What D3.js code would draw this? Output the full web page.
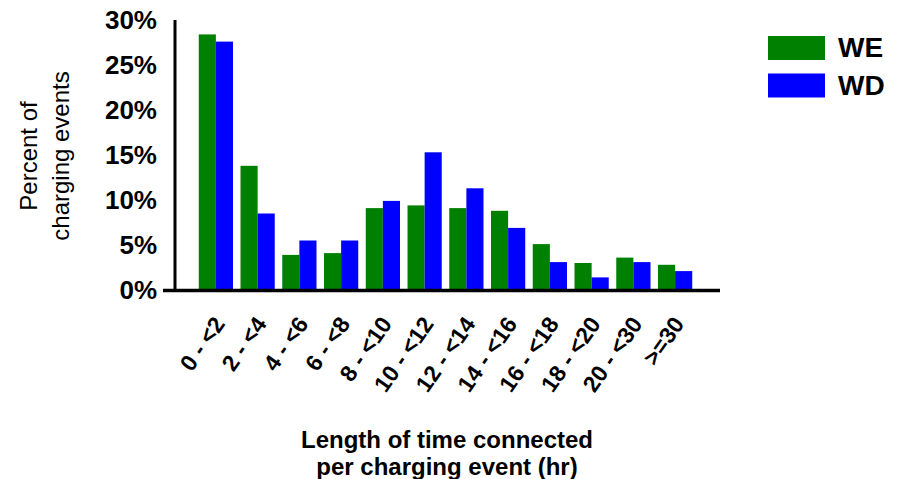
<!DOCTYPE html>
<html lang="en">
<head>
<meta charset="UTF-8">
<title>Charging events</title>
<script src="https://cdn.jsdelivr.net/npm/d3@7"></script>
<style>
  body { margin: 0; background: #fff; }
  text { font-family: "Liberation Sans", Arial, sans-serif; }
</style>
</head>
<body>
<script>
var categories = ["0 - <2", "2 - <4", "4 - <6", "6 - <8", "8 - <10", "10 - <12",
                  "12 - <14", "14 - <16", "16 - <18", "18 - <20", "20 - <30", ">=30"];
var weValues = [28.4, 13.8, 3.9, 4.1, 9.1, 9.4, 9.1, 8.8, 5.1, 3.0, 3.6, 2.8];
var wdValues = [27.6, 8.5, 5.5, 5.5, 9.9, 15.3, 11.3, 6.9, 3.1, 1.4, 3.1, 2.1];
var seriesNames = ["WE", "WD"];
var yTicks = [0, 5, 10, 15, 20, 25, 30];

var width = 907, height = 479;
var colors = { WE: "#008000", WD: "#0000ff" };

var svg = d3.select("body").append("svg")
    .attr("width", width).attr("height", height);

var x = d3.scaleBand()
    .domain(categories)
    .range([195, 696])
    .paddingInner(0.18)
    .paddingOuter(0.09);

var xSub = d3.scaleBand()
    .domain(seriesNames)
    .range([0, x.bandwidth()]);

var y = d3.scaleLinear()
    .domain([0, 30])
    .range([290, 20]);

// bars
var rows = categories.map(function(c, i) {
    return { cat: c, WE: weValues[i], WD: wdValues[i] };
});

var groups = svg.selectAll("g.grp")
    .data(rows)
    .enter().append("g")
    .attr("class", "grp")
    .attr("transform", function(d) { return "translate(" + x(d.cat) + ",0)"; });

groups.selectAll("rect")
    .data(function(d) { return seriesNames.map(function(s) { return { s: s, v: d[s] }; }); })
    .enter().append("rect")
    .attr("x", function(d) { return xSub(d.s); })
    .attr("width", xSub.bandwidth())
    .attr("y", function(d) { return y(d.v); })
    .attr("height", function(d) { return y(0) - y(d.v); })
    .attr("fill", function(d) { return colors[d.s]; });

// axis lines
svg.append("line")
    .attr("x1", 175).attr("x2", 175)
    .attr("y1", y(30)).attr("y2", y(0))
    .attr("stroke", "#000").attr("stroke-width", 3);
svg.append("line")
    .attr("x1", 163).attr("x2", 720)
    .attr("y1", y(0) + 0.5).attr("y2", y(0) + 0.5)
    .attr("stroke", "#000").attr("stroke-width", 3.5);

// y tick labels
svg.selectAll("text.ytick")
    .data(yTicks)
    .enter().append("text")
    .attr("class", "ytick")
    .attr("x", 157)
    .attr("y", function(d) { return y(d) + 9; })
    .attr("text-anchor", "end")
    .attr("font-size", 26)
    .attr("font-weight", "bold")
    .text(function(d) { return d + "%"; });

// x tick labels
svg.selectAll("text.xtick")
    .data(categories)
    .enter().append("text")
    .attr("class", "xtick")
    .attr("text-anchor", "end")
    .attr("font-size", 23)
    .attr("font-weight", "bold")
    .attr("transform", function(d) {
        return "translate(" + (x(d) + x.bandwidth() / 2 + 10) + ",324) rotate(-55)";
    })
    .text(function(d) { return d; });

// y title
var yt = svg.append("text")
    .attr("transform", "translate(0,156) rotate(-90)")
    .attr("text-anchor", "middle")
    .attr("font-size", 24);
yt.append("tspan").attr("x", 0).attr("y", 37).text("Percent of");
yt.append("tspan").attr("x", 0).attr("y", 69).text("charging events");

// x title
var xt = svg.append("text")
    .attr("text-anchor", "middle")
    .attr("font-size", 24)
    .attr("font-weight", "bold");
xt.append("tspan").attr("x", 447).attr("y", 448).text("Length of time connected");
xt.append("tspan").attr("x", 447).attr("y", 475).text("per charging event (hr)");

// legend
var legend = svg.selectAll("g.leg")
    .data(seriesNames)
    .enter().append("g")
    .attr("class", "leg")
    .attr("transform", function(d, i) { return "translate(768," + (36 + i * 37.5) + ")"; });
legend.append("rect")
    .attr("width", 57).attr("height", 24)
    .attr("fill", function(d) { return colors[d]; });
legend.append("text")
    .attr("x", 70).attr("y", 21)
    .attr("font-size", 28)
    .attr("font-weight", "bold")
    .text(function(d) { return d; });
</script>
</body>
</html>
